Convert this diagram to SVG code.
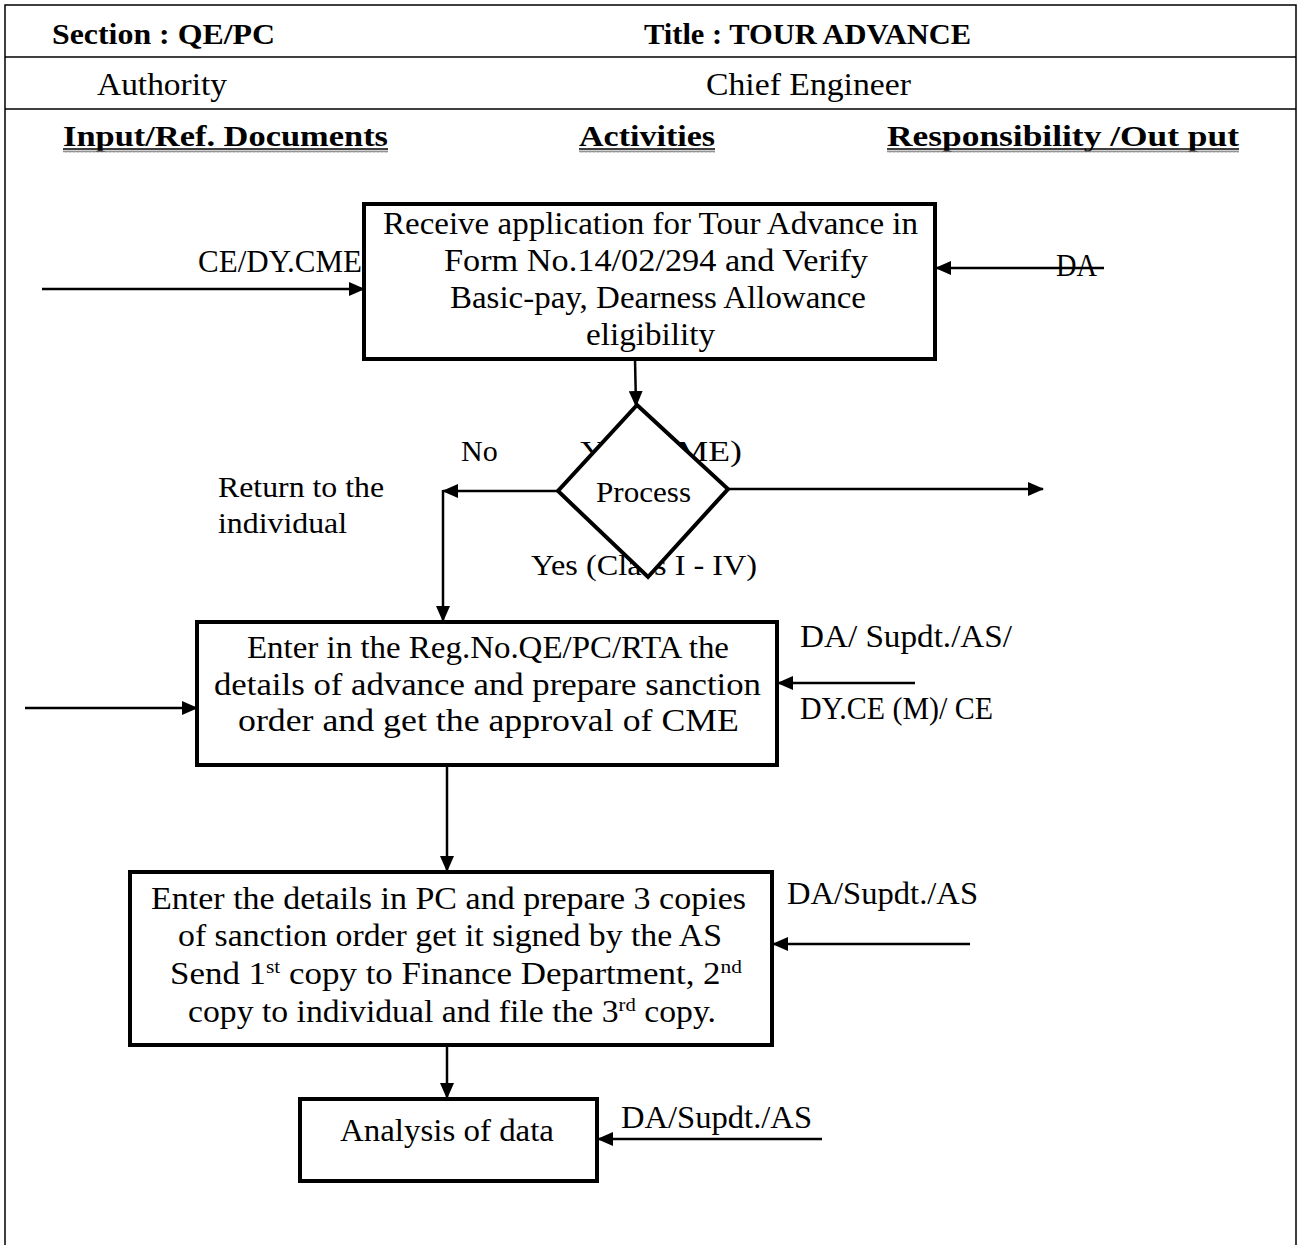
<svg xmlns="http://www.w3.org/2000/svg" width="1298" height="1245" viewBox="0 0 1298 1245">
<style>
.cam{font-family:"Liberation Serif","DejaVu Serif",serif;font-size:31px;fill:#000}
.hb{font-family:"Liberation Serif","DejaVu Serif",serif;font-size:30px;font-weight:bold;fill:#000}
.tnr{font-family:"Liberation Serif","Times New Roman",serif;font-size:30px;fill:#000}
.box{fill:#fff;stroke:#000;stroke-width:4}
.grid{stroke:#000;stroke-width:1.5;fill:none}
.con{stroke:#000;stroke-width:2.5;fill:none}
.sq{fill:url(#wavy)}
</style>
<defs>
<marker id="ah" markerUnits="userSpaceOnUse" markerWidth="16" markerHeight="14" refX="15" refY="7" orient="auto">
<path d="M0,0 L16,7 L0,14 Z" fill="#000"/>
</marker>
<pattern id="wavy" width="4" height="3" patternUnits="userSpaceOnUse">
<path d="M0,2.5 L1,0.5 L2,2.5 L3,0.5 L4,2.5" stroke="#777" stroke-width="0.8" fill="none"/>
</pattern>
</defs>

<g id="frame">
<path class="grid" d="M5,1245 V5 H1296 V1245"/>
<line class="grid" x1="5" y1="57" x2="1296" y2="57"/>
<line class="grid" x1="5" y1="109" x2="1296" y2="109"/>
</g>

<g id="header">
<text class="hb" x="52" y="44" textLength="223" lengthAdjust="spacingAndGlyphs">Section : QE/PC</text>
<text class="hb" x="644" y="44" textLength="327" lengthAdjust="spacingAndGlyphs">Title : TOUR  ADVANCE</text>
<text class="cam" x="97" y="95" textLength="130" lengthAdjust="spacingAndGlyphs">Authority</text>
<text class="cam" x="706" y="95" textLength="205" lengthAdjust="spacingAndGlyphs">Chief  Engineer</text>
<text class="hb" x="63" y="146" textLength="325" lengthAdjust="spacingAndGlyphs">Input/Ref. Documents</text>
<text class="hb" x="579" y="146" textLength="136" lengthAdjust="spacingAndGlyphs">Activities</text>
<text class="hb" x="887" y="146" textLength="352" lengthAdjust="spacingAndGlyphs">Responsibility /Out put</text>
<line x1="63" y1="149" x2="388" y2="149" stroke="#000" stroke-width="1.5"/>
<line x1="579" y1="149" x2="715" y2="149" stroke="#000" stroke-width="1.5"/>
<line x1="887" y1="149" x2="1239" y2="149" stroke="#000" stroke-width="1.5"/>
<rect class="sq" x="63" y="150" width="325" height="3"/>
<rect class="sq" x="579" y="150" width="136" height="3"/>
<rect class="sq" x="887" y="150" width="352" height="3"/>
</g>

<g id="labels">
<text class="cam" x="198" y="272" textLength="164" lengthAdjust="spacingAndGlyphs">CE/DY.CME</text>
<text class="cam" x="1056" y="276" textLength="41" lengthAdjust="spacingAndGlyphs">DA</text>
<text class="tnr" x="461" y="461">No</text>
<text class="tnr" x="580" y="461" textLength="162" lengthAdjust="spacingAndGlyphs">Yes (CME)</text>
<text class="tnr" x="218" y="497" textLength="166" lengthAdjust="spacingAndGlyphs">Return to the</text>
<text class="tnr" x="218" y="533" textLength="129" lengthAdjust="spacingAndGlyphs">individual</text>
<text class="tnr" x="531" y="575" textLength="226" lengthAdjust="spacingAndGlyphs">Yes (Class I - IV)</text>
<text class="cam" x="800" y="647" textLength="212" lengthAdjust="spacingAndGlyphs">DA/ Supdt./AS/</text>
<text class="cam" x="800" y="719" textLength="193" lengthAdjust="spacingAndGlyphs">DY.CE (M)/ CE</text>
<text class="cam" x="787" y="904" textLength="191" lengthAdjust="spacingAndGlyphs">DA/Supdt./AS</text>
<text class="cam" x="621" y="1128" textLength="191" lengthAdjust="spacingAndGlyphs">DA/Supdt./AS</text>
</g>

<g id="connectors">
<line class="con" x1="42" y1="289" x2="364" y2="289" marker-end="url(#ah)"/>
<line class="con" x1="1104" y1="268" x2="936" y2="268" marker-end="url(#ah)"/>
<line class="con" x1="635" y1="359" x2="636" y2="406" marker-end="url(#ah)"/>
<line class="con" x1="558" y1="491" x2="443" y2="491" marker-end="url(#ah)"/>
<line class="con" x1="728" y1="489" x2="1043" y2="489" marker-end="url(#ah)"/>
<line class="con" x1="443" y1="490" x2="443" y2="621" marker-end="url(#ah)"/>
<line class="con" x1="25" y1="708" x2="197" y2="708" marker-end="url(#ah)"/>
<line class="con" x1="915" y1="683" x2="778" y2="683" marker-end="url(#ah)"/>
<line class="con" x1="447" y1="765" x2="447" y2="871" marker-end="url(#ah)"/>
<line class="con" x1="970" y1="944" x2="773" y2="944" marker-end="url(#ah)"/>
<line class="con" x1="447" y1="1045" x2="447" y2="1098" marker-end="url(#ah)"/>
<line class="con" x1="822" y1="1139" x2="598" y2="1139" marker-end="url(#ah)"/>
</g>

<g id="node-receive">
<rect class="box" x="364" y="204" width="571" height="155"/>
<text class="cam" x="383" y="234" textLength="535" lengthAdjust="spacingAndGlyphs">Receive application for Tour Advance in</text>
<text class="cam" x="444" y="271" textLength="424" lengthAdjust="spacingAndGlyphs">Form No.14/02/294 and Verify</text>
<text class="cam" x="450" y="308" textLength="416" lengthAdjust="spacingAndGlyphs">Basic-pay, Dearness Allowance</text>
<text class="cam" x="586" y="345" textLength="129" lengthAdjust="spacingAndGlyphs">eligibility</text>
</g>

<g id="node-process">
<polygon points="637,405 728,489 648,577 558,491" fill="#fff" stroke="#000" stroke-width="4" stroke-linejoin="miter"/>
<text class="tnr" x="596" y="502" textLength="95" lengthAdjust="spacingAndGlyphs">Process</text>
</g>

<g id="node-enter-reg">
<rect class="box" x="197" y="622" width="580" height="143"/>
<text class="cam" x="247" y="658" textLength="482" lengthAdjust="spacingAndGlyphs">Enter in the Reg.No.QE/PC/RTA the</text>
<text class="cam" x="214" y="695" textLength="547" lengthAdjust="spacingAndGlyphs">details of advance  and prepare sanction</text>
<text class="cam" x="238" y="731" textLength="501" lengthAdjust="spacingAndGlyphs">order  and  get  the  approval of  CME</text>
</g>

<g id="node-enter-pc">
<rect class="box" x="130" y="872" width="642" height="173"/>
<text class="cam" x="151" y="909" textLength="595" lengthAdjust="spacingAndGlyphs">Enter the details in PC and prepare 3 copies</text>
<text class="cam" x="178" y="946" textLength="544" lengthAdjust="spacingAndGlyphs">of sanction order get it signed by the AS</text>
<text class="cam" x="170" y="984" textLength="572" lengthAdjust="spacingAndGlyphs">Send 1<tspan font-size="19" dy="-11">st</tspan><tspan dy="11">   copy to Finance Department, 2</tspan><tspan font-size="19" dy="-11">nd</tspan></text>
<text class="cam" x="188" y="1022" textLength="528" lengthAdjust="spacingAndGlyphs">copy to individual and file the 3<tspan font-size="19" dy="-11">rd</tspan><tspan dy="11"> copy.</tspan></text>
</g>

<g id="node-analysis">
<rect class="box" x="300" y="1099" width="297" height="82"/>
<text class="cam" x="340" y="1141" textLength="214" lengthAdjust="spacingAndGlyphs">Analysis of data</text>
</g>
</svg>
